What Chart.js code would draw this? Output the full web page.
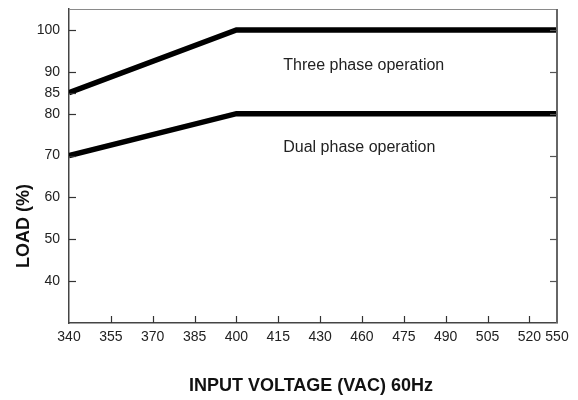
<!DOCTYPE html>
<html><head><meta charset="utf-8">
<script src="https://cdn.jsdelivr.net/npm/chart.js@4"></script>
<style>html,body{margin:0;padding:0;background:#fff;}#wrap{width:578px;height:400px;}</style>
</head><body><div id="wrap"><canvas id="c" width="578" height="400"></canvas></div>
<script>
const xTickLabels = [340, 355, 370, 385, 400, 415, 430, 460, 475, 490, 505, 520, 550];
const yTickValues = [40, 50, 60, 70, 80, 85, 90, 100];
const rightTickValues = [40, 50, 60, 70, 80, 90, 100];
const threePhaseVoltage = [340, 400, 550];
const threePhaseLoad = [85, 100, 100];
const dualPhaseVoltage = [340, 400, 550];
const dualPhaseLoad = [70, 80, 80];
const xAxisTitle = 'INPUT VOLTAGE (VAC) 60Hz';
const yAxisTitle = 'LOAD (%)';
const notes = [
  {text: 'Three phase operation', voltage: 415, load: 91.5},
  {text: 'Dual phase operation', voltage: 415, load: 72}
];

const X_MAX = 11.66;
const FONT = "'Liberation Sans Narrow', 'Liberation Sans', Arial, sans-serif";
function slotOf(v) {
  // axis is drawn in evenly spaced tick slots; the last tick sits at the right edge
  let i = xTickLabels.indexOf(v);
  if (i === xTickLabels.length - 1) return X_MAX;
  if (i >= 0) return i;
  for (let k = 0; k < xTickLabels.length - 1; k++) {
    const a = xTickLabels[k], b = xTickLabels[k + 1];
    if (v >= a && v <= b) {
      const pa = k, pb = (k + 1 === xTickLabels.length - 1) ? X_MAX : k + 1;
      return pa + (v - a) / (b - a) * (pb - pa);
    }
  }
  return 0;
}
const toPts = (xs, ys) => xs.map((v, i) => ({x: slotOf(v), y: ys[i]}));

const framePlugin = {
  id: 'frame',
  afterDraw(chart) {
    const {ctx, chartArea: a, scales} = chart;
    ctx.save();
    // top border
    ctx.strokeStyle = '#8a8a8a'; ctx.lineWidth = 1;
    ctx.beginPath(); ctx.moveTo(a.left, a.top + 0.5); ctx.lineTo(a.right, a.top + 0.5); ctx.stroke();
    // right border
    ctx.strokeStyle = '#666'; ctx.lineWidth = 2;
    ctx.beginPath(); ctx.moveTo(a.right, a.top); ctx.lineTo(a.right, a.bottom); ctx.stroke();
    // inward ticks
    ctx.strokeStyle = '#333'; ctx.lineWidth = 1.2;
    scales.x.ticks.forEach(t => {
      const px = Math.round(scales.x.getPixelForValue(t.value)) + 0.5;
      if (t.value <= 0 || t.value >= X_MAX) return;
      ctx.beginPath(); ctx.moveTo(px, a.bottom); ctx.lineTo(px, a.bottom - 7); ctx.stroke();
    });
    scales.y.ticks.forEach(t => {
      const py = Math.round(scales.y.getPixelForValue(t.value)) + 0.5;
      ctx.beginPath(); ctx.moveTo(a.left, py); ctx.lineTo(a.left + 7, py); ctx.stroke();
    });
    ctx.strokeStyle = '#555';
    rightTickValues.forEach(v => {
      const py = Math.round(scales.y.getPixelForValue(v)) + 0.5;
      ctx.beginPath(); ctx.moveTo(a.right, py); ctx.lineTo(a.right - 7, py); ctx.stroke();
    });
    // notes
    ctx.fillStyle = '#222';
    ctx.font = "16px " + FONT;
    ctx.textAlign = 'left'; ctx.textBaseline = 'middle';
    notes.forEach(n => {
      ctx.fillText(n.text, scales.x.getPixelForValue(slotOf(n.voltage)) + 5, scales.y.getPixelForValue(n.load));
    });
    // axis titles
    ctx.fillStyle = '#111';
    ctx.font = "bold 18px " + FONT;
    ctx.textAlign = 'center';
    ctx.fillText(xAxisTitle, 311, 386);
    ctx.save();
    ctx.translate(24, 226);
    ctx.rotate(-Math.PI / 2);
    ctx.fillText(yAxisTitle, 0, 0);
    ctx.restore();
    ctx.restore();
  }
};

new Chart(document.getElementById('c'), {
  type: 'line',
  data: {
    datasets: [
      {label: 'Three phase operation', data: toPts(threePhaseVoltage, threePhaseLoad),
       borderColor: '#000', borderWidth: 5.5, pointRadius: 0, tension: 0, fill: false},
      {label: 'Dual phase operation', data: toPts(dualPhaseVoltage, dualPhaseLoad),
       borderColor: '#000', borderWidth: 5.5, pointRadius: 0, tension: 0, fill: false}
    ]
  },
  options: {
    responsive: false,
    animation: false,
    devicePixelRatio: 1,
    layout: {padding: {left: 0, top: 9, right: 21, bottom: 0}},
    plugins: {legend: {display: false}, tooltip: {enabled: false}},
    scales: {
      x: {
        type: 'linear', min: 0, max: X_MAX,
        afterBuildTicks: s => { s.ticks = xTickLabels.map((l, i) => ({value: i === xTickLabels.length - 1 ? X_MAX : i})); },
        afterFit: s => { s.height = 77; s.paddingLeft = 0; s.paddingRight = 0; },
        grid: {display: true, drawOnChartArea: false, drawTicks: false},
        border: {display: true, color: '#444', width: 1.5},
        ticks: {autoSkip: false, maxRotation: 0, padding: 6, color: '#222',
                font: {family: FONT, size: 14},
                callback: (v, i) => String(xTickLabels[i])}
      },
      y: {
        type: 'linear', min: 30, max: 105,
        afterBuildTicks: s => { s.ticks = yTickValues.map(v => ({value: v})); },
        afterFit: s => { s.width = 69; s.paddingTop = 0; s.paddingBottom = 0; },
        grid: {display: true, drawOnChartArea: false, drawTicks: false},
        border: {display: true, color: '#444', width: 1.5},
        ticks: {padding: 9, color: '#222', font: {family: FONT, size: 14},
                callback: v => String(v)}
      }
    }
  },
  plugins: [framePlugin]
});
</script></body></html>
